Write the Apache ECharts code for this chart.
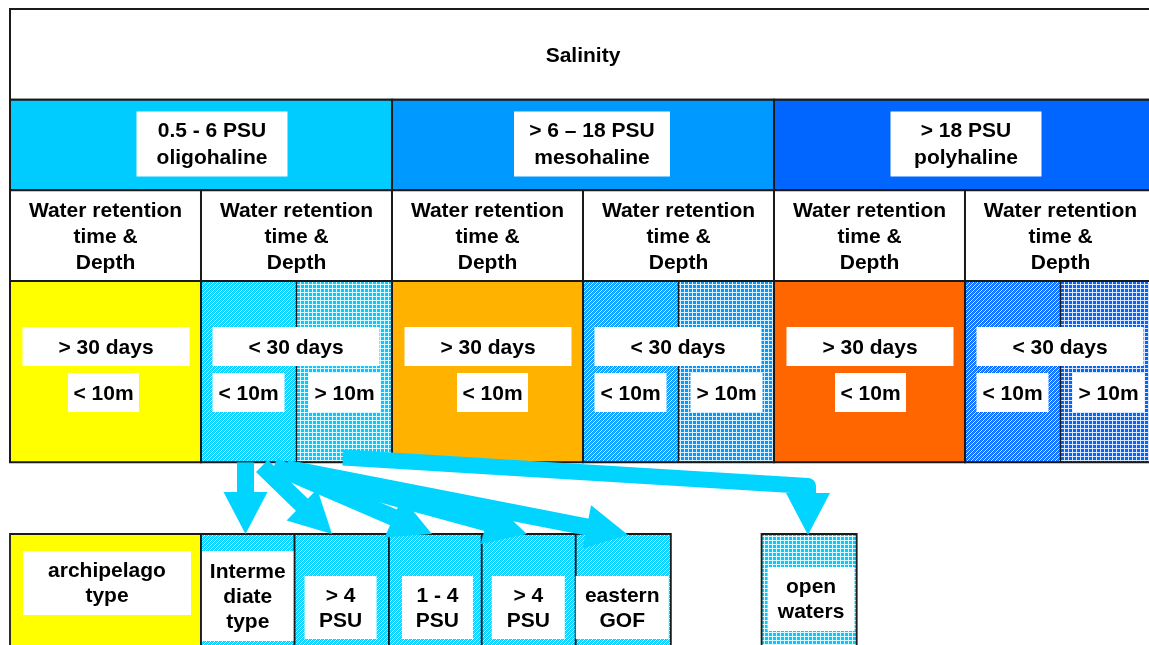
<!DOCTYPE html>
<html><head><meta charset="utf-8">
<script src="https://cdn.jsdelivr.net/npm/echarts@6/dist/echarts.min.js"></script>
<style>html,body{margin:0;padding:0;background:#fff}#main{width:1149px;height:645px}</style>
</head><body><div id="main"></div>
<script>
// ---------------- content (diagram units: x = sub-column, 6 across the table; y = table row, top = 0) -------------
const titleText = 'Salinity';
const salinityClasses = ['0.5 - 6 PSU\noligohaline', '> 6 – 18 PSU\nmesohaline', '> 18 PSU\npolyhaline'];
const retentionHeader = 'Water retention\ntime &\nDepth';
const retentionTimes = ['> 30 days', '< 30 days'];
const depthClasses = ['< 10m', '> 10m'];
const outcomeLabels = ['archipelago\ntype', 'Interme\ndiate\ntype', '> 4\nPSU', '1 - 4\nPSU', '> 4\nPSU', 'eastern\nGOF', 'open\nwaters'];
const outcomeStartX = [0, 1, 1.49, 1.984, 2.47, 2.962, 3.935];
const outcomeEndX   = [1, 1.49, 1.984, 2.47, 2.962, 3.46, 4.433];
const outcomeFillKind = ['solid', 'diag', 'diag', 'diag', 'diag', 'diag', 'grid'];
const outcomeTopY = 5.79;
// flow arrows: path points
const arrowPathsX = [[1.233, 1.233], [1.319, 1.686], [1.382, 2.209], [1.445, 2.707], [1.497, 3.236], [1.743, 4.178, 4.178]];
const arrowPathsY = [[5.0, 5.79], [5.04, 5.79], [5.04, 5.79], [5.062, 5.79], [5.085, 5.801], [4.947, 5.261, 5.801]];

// ---------------- styles -------------
const classColors = ['#00CCFF', '#0099FF', '#0066FF'];
const longRetentionColors = ['#FFFF00', '#FFB300', '#FF6600'];
const hatchBase = ['#00CCFF', '#0099FF', '#0066FF'];
const arrowColor = '#00D4FF';
const FONT = 'bold 21px "Liberation Sans", Arial, sans-serif';
const LINE = '#1a1a1a';

function pat(base, kind) {
  const c = document.createElement('canvas');
  const g = c.getContext('2d');
  c.width = c.height = 4;
  g.fillStyle = base; g.fillRect(0, 0, 4, 4);
  if (kind === 'diag') {
    for (let x = 0; x < 4; x++) {
      g.fillStyle = 'rgba(255,255,255,0.85)'; g.fillRect(x, (3 - x + 4) % 4, 1, 1);
      g.fillStyle = 'rgba(255,255,255,0.25)'; g.fillRect(x, (5 - x + 4) % 4, 1, 1);
    }
  } else {
    g.fillStyle = 'rgba(255,255,255,0.85)'; g.fillRect(0, 0, 4, 1); g.fillRect(0, 1, 1, 3);
  }
  return { image: c, repeat: 'repeat' };
}

// ---------------- build cells -------------
const cells = [];
cells.push({ r: [0, 0, 6, 1], fill: '#ffffff', lw: 2 });
salinityClasses.forEach((_, i) => cells.push({ r: [2 * i, 1, 2 * i + 2, 2], fill: classColors[i], lw: 2 }));
for (let j = 0; j < 6; j++) cells.push({ r: [j, 2, j + 1, 3], fill: '#ffffff', lw: 2 });
for (let i = 0; i < 3; i++) {
  cells.push({ r: [2 * i, 3, 2 * i + 1, 5], fill: longRetentionColors[i], lw: 2 });
  cells.push({ r: [2 * i + 1, 3, 2 * i + 1.5, 5], fill: pat(hatchBase[i], 'diag'), lw: 1.3 });
  cells.push({ r: [2 * i + 1.5, 3, 2 * i + 2, 5], fill: pat(hatchBase[i], 'grid'), lw: 1.3 });
  cells.push({ r: [2 * i + 1, 3, 2 * i + 2, 5], fill: 'none', lw: 2 });
}
outcomeLabels.forEach((_, k) => {
  const kind = outcomeFillKind[k];
  const fill = kind === 'solid' ? longRetentionColors[0] : pat(hatchBase[0], kind);
  cells.push({ r: [outcomeStartX[k], outcomeTopY, outcomeEndX[k], 7.5], fill, lw: 1.8 });
});

// ---------------- build labels (box offsets in px relative to the cell) -------------
const labels = [];
labels.push({ r: [0, 0, 6, 1], text: titleText, lh: 26, ty: 2 });
const classBoxDx = [11, 9, 1], classBoxW = [151, 156, 151];
salinityClasses.forEach((t, i) => labels.push({ r: [2 * i, 1, 2 * i + 2, 2], text: t, lh: 27, ty: 1, box: { mode: 'center', dx: classBoxDx[i], dy: -1, w: classBoxW[i], h: 65 } }));
for (let j = 0; j < 6; j++) labels.push({ r: [j, 2, j + 1, 3], text: retentionHeader, lh: 26, ty: 2 });
const shortDepthDx = [58, 65, 61];
for (let i = 0; i < 3; i++) {
  labels.push({ r: [2 * i, 3, 2 * i + 1, 5], text: retentionTimes[0], lh: 26, box: { mode: 'left', dx: 12.5, dy: 46, w: 167, h: 39 } });
  labels.push({ r: [2 * i, 3, 2 * i + 1, 5], text: depthClasses[0], lh: 26, box: { mode: 'left', dx: shortDepthDx[i], dy: 92, w: 71, h: 39 } });
  labels.push({ r: [2 * i + 1, 3, 2 * i + 2, 5], text: retentionTimes[1], lh: 26, box: { mode: 'left', dx: 11.5, dy: 46, w: 167, h: 39 } });
  labels.push({ r: [2 * i + 1, 3, 2 * i + 1.5, 5], text: depthClasses[0], lh: 26, box: { mode: 'left', dx: 11.5, dy: 92, w: 72, h: 39 } });
  labels.push({ r: [2 * i + 1.5, 3, 2 * i + 2, 5], text: depthClasses[1], lh: 26, box: { mode: 'left', dx: 12, dy: 92, w: 72, h: 39 } });
}
const outcomeBoxes = [
  { dx: 13, dy: 17, w: 168, h: 64 },
  { dx: 1, dy: 17, w: 91.5, h: 90 },
  { dx: 10, dy: 42, w: 72, h: 63 },
  { dx: 13, dy: 42, w: 71, h: 63 },
  { dx: 10, dy: 42, w: 73, h: 63 },
  { dx: 0, dy: 42, w: 93, h: 63 },
  { dx: 6, dy: 33, w: 87, h: 64 }
];
outcomeLabels.forEach((t, k) => labels.push({ r: [outcomeStartX[k], outcomeTopY, outcomeEndX[k], 7.5], text: t, lh: 25, ty: 1, box: Object.assign({ mode: 'left' }, outcomeBoxes[k]) }));

function rectOf(api) {
  const p0 = api.coord([api.value(0), api.value(1)]);
  const p1 = api.coord([api.value(2), api.value(3)]);
  return { x: Math.min(p0[0], p1[0]), y: Math.min(p0[1], p1[1]), width: Math.abs(p1[0] - p0[0]), height: Math.abs(p1[1] - p0[1]) };
}

const option = {
  animation: false,
  grid: { left: 10, right: 0, top: 9, bottom: 1.3 },
  xAxis: { type: 'value', min: 0, max: 5.9634, show: false },
  yAxis: { type: 'value', min: 0, max: 7, inverse: true, show: false },
  series: [
    {
      type: 'custom', name: 'cells', z: 1, silent: true, clip: false,
      encode: { x: [0, 2], y: [1, 3] },
      data: cells.map(c => c.r),
      renderItem: (params, api) => {
        const c = cells[params.dataIndex];
        return { type: 'rect', shape: rectOf(api), style: { fill: c.fill, stroke: LINE, lineWidth: c.lw } };
      }
    },
    {
      type: 'custom', name: 'labels', z: 2, silent: true, clip: false,
      encode: { x: [0, 2], y: [1, 3] },
      data: labels.map(l => l.r),
      renderItem: (params, api) => {
        const l = labels[params.dataIndex];
        const R = rectOf(api);
        const children = [];
        let cx = R.x + R.width / 2, cy = R.y + R.height / 2;
        if (l.box) {
          const b = l.box;
          let bx, by;
          if (b.mode === 'center') { bx = cx + b.dx - b.w / 2; by = cy + b.dy - b.h / 2; }
          else { bx = R.x + b.dx; by = R.y + b.dy; }
          children.push({ type: 'rect', shape: { x: bx, y: by, width: b.w, height: b.h }, style: { fill: '#ffffff' } });
          cx = bx + b.w / 2; cy = by + b.h / 2;
        }
        const ty = l.ty != null ? l.ty : 2;
        children.push({ type: 'text', x: cx, y: cy + ty, style: { text: l.text, font: FONT, fill: '#000', align: 'center', verticalAlign: 'middle', lineHeight: l.lh } });
        return { type: 'group', children };
      }
    },
    {
      type: 'custom', name: 'arrows', z: 3, silent: true, clip: false,
      encode: { x: [0, 2], y: [1, 3] },
      data: arrowPathsX.map((xs, i) => [xs[0], arrowPathsY[i][0], xs[xs.length - 1], arrowPathsY[i][xs.length - 1]]),
      renderItem: (params, api) => {
        const i = params.dataIndex;
        const pts = arrowPathsX[i].map((x, k) => api.coord([x, arrowPathsY[i][k]]));
        const headLen = 42, headW = 44, shaftW = i === 5 ? 16 : 17;
        const tip = pts[pts.length - 1], prev = pts[pts.length - 2];
        let dx = tip[0] - prev[0], dy = tip[1] - prev[1];
        const len = Math.hypot(dx, dy); dx /= len; dy /= len;
        const base = [tip[0] - dx * headLen, tip[1] - dy * headLen];
        const px = -dy, py = dx;
        const shaft = pts.slice(0, -1).concat([[base[0] + dx * 2, base[1] + dy * 2]]);
        const head = [tip, [base[0] + px * headW / 2, base[1] + py * headW / 2], [base[0] - px * headW / 2, base[1] - py * headW / 2]];
        return { type: 'group', children: [
          { type: 'polyline', shape: { points: shaft }, style: { fill: 'none', stroke: arrowColor, lineWidth: shaftW, lineJoin: 'round', lineCap: 'butt' } },
          { type: 'polygon', shape: { points: head }, style: { fill: arrowColor } }
        ] };
      }
    }
  ]
};
const chart = echarts.init(document.getElementById('main'));
chart.setOption(option);
</script>
</body></html>
